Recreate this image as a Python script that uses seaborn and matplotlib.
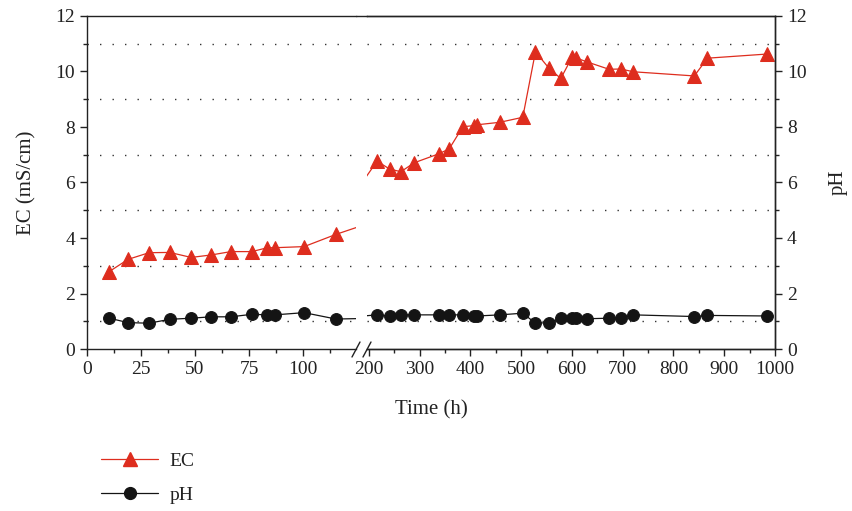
import numpy as np
import matplotlib
matplotlib.use('Agg')
import matplotlib.pyplot as plt
from matplotlib.lines import Line2D
import seaborn as sns

# --- data ---
time_h = [10.3, 19.0, 28.7, 38.3, 48.2, 57.6, 66.6, 76.3, 83.5, 86.9, 100.5, 115.2,
          216, 241, 263, 289, 337, 358, 385, 407, 413, 458, 503, 528, 555, 578,
          600, 608, 629, 673, 696, 721, 841, 867, 985]
ec_ms_cm = [2.79, 3.23, 3.47, 3.48, 3.30, 3.39, 3.51, 3.51, 3.65, 3.65, 3.69, 4.13,
            6.77, 6.48, 6.39, 6.71, 7.03, 7.21, 8.01, 8.05, 8.08, 8.17, 8.35, 10.71,
            10.11, 9.75, 10.51, 10.49, 10.35, 10.08, 10.09, 9.99, 9.84, 10.48, 10.63]
ph_vals = [1.11, 0.95, 0.93, 1.07, 1.11, 1.16, 1.16, 1.25, 1.23, 1.23, 1.31, 1.08,
           1.23, 1.19, 1.23, 1.23, 1.23, 1.23, 1.23, 1.19, 1.19, 1.23, 1.29, 0.93,
           0.95, 1.11, 1.11, 1.11, 1.09, 1.11, 1.11, 1.23, 1.17, 1.21, 1.19]

left_ticks = [0, 25, 50, 75, 100]
right_ticks = [200, 300, 400, 500, 600, 700, 800, 900, 1000]
y_ticks = [0, 2, 4, 6, 8, 10, 12]

# --- style ---
sns.set_theme(style='ticks')
plt.rcParams['font.family'] = ['Liberation Serif', 'DejaVu Serif']
plt.rcParams['text.color'] = '#222222'
plt.rcParams['axes.labelcolor'] = '#222222'
plt.rcParams['xtick.color'] = '#222222'
plt.rcParams['ytick.color'] = '#222222'

RED = '#DE2D1E'
BLACK = '#141414'
W, H = 853, 511

fig = plt.figure(figsize=(W / 100, H / 100), dpi=100)
bot, top = 1 - 349 / H, (349 - 16) / H
ax1 = fig.add_axes([87 / W, bot, (356 - 87) / W, top])
ax2 = fig.add_axes([367 / W, bot, (775 - 367) / W, top])
ax3 = ax2.twinx()

for ax in (ax1, ax2):
    sns.lineplot(x=time_h, y=ec_ms_cm, ax=ax, color=RED, lw=0.9, marker='^',
                 markersize=10.5, markeredgecolor=RED, estimator=None, sort=False,
                 label='EC', legend=False)
    sns.lineplot(x=time_h, y=ph_vals, ax=ax, color=BLACK, lw=0.9, marker='o',
                 markersize=8.5, markeredgecolor=BLACK, estimator=None, sort=False,
                 label='pH', legend=False)
    ax.set_ylim(0, 12)
    ax.set_yticks(y_ticks)
    ax.set_yticks(np.arange(1, 12, 2), minor=True)
    ax.grid(axis='y', which='minor', linestyle=(0, (1.0, 8.0)), lw=1.0, color='#333333')
    ax.tick_params(labelsize=14, length=5, width=1, direction='out')
    ax.tick_params(which='minor', length=3, width=1, direction='out')
    for s in ax.spines.values():
        s.set_linewidth(1)
        s.set_color('#222222')

ax1.set_xlim(0, 124.5)
ax1.set_xticks(left_ticks)
ax1.set_xticks(np.arange(12.5, 113, 25), minor=True)
ax1.spines['right'].set_visible(False)
ax1.set_ylabel('EC (mS/cm)', fontsize=15, labelpad=14)

ax2.set_xlim(196.1, 1000)
ax2.set_xticks(right_ticks)
ax2.set_xticks(np.arange(250, 1000, 100), minor=True)
ax2.spines['left'].set_visible(False)
ax2.tick_params(axis='y', which='both', left=False, labelleft=False)

ax3.set_ylim(0, 12)
ax3.set_yticks(y_ticks)
ax3.set_yticks(np.arange(1, 12, 2), minor=True)
ax3.tick_params(labelsize=14, length=5, width=1, direction='out')
ax3.tick_params(which='minor', length=3, width=1, direction='out')
ax3.spines['left'].set_visible(False)
ax3.set_ylabel('pH', fontsize=15, labelpad=16)
for s in ax3.spines.values():
    s.set_linewidth(1)
    s.set_color('#222222')

fig.text(431 / W, 1 - 410 / H, 'Time (h)', ha='center', va='center', fontsize=15)

# top spine across the gap and the // break marks on the x axis
def px(x, y):
    return x / W, 1 - y / H

fig.add_artist(Line2D(*zip(px(356, 16), px(367, 16)), color='#222222', lw=1))
for x0 in (352, 363):
    fig.add_artist(Line2D(*zip(px(x0, 357), px(x0 + 8, 342)), color='#222222', lw=1))

# legend below the plot
handles = [Line2D([], [], color=RED, lw=0.9, marker='^', markersize=10.5),
           Line2D([], [], color=BLACK, lw=0.9, marker='o', markersize=8.5)]
fig.legend(handles, ['EC', 'pH'], loc='upper left', bbox_to_anchor=(84 / W, 1 - 435 / H),
           frameon=False, fontsize=14, handlelength=2.9, handletextpad=0.6,
           labelspacing=0.85, numpoints=1)

fig.savefig('out.png', dpi=100)
